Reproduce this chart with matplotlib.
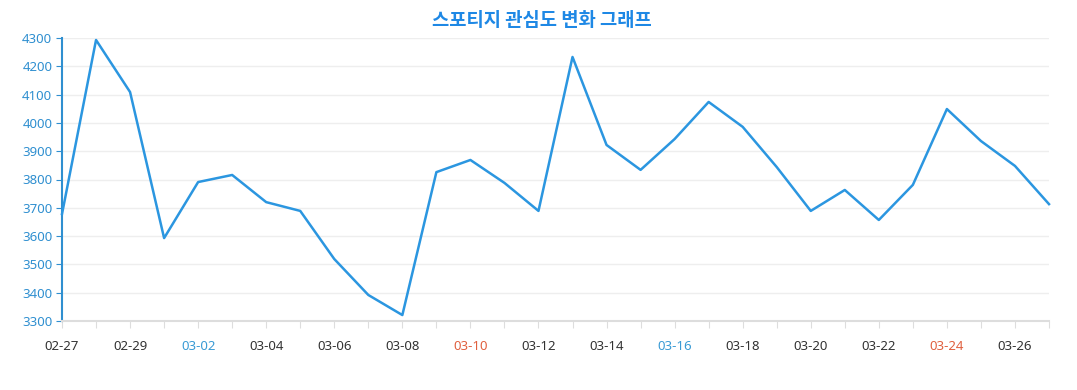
import matplotlib
matplotlib.use("Agg")
import matplotlib.pyplot as plt

plt.rcParams['font.family'] = ['Noto Sans CJK KR', 'DejaVu Sans']

dates = ['02-27', '02-28', '02-29', '03-01', '03-02', '03-03', '03-04', '03-05',
         '03-06', '03-07', '03-08', '03-09', '03-10', '03-11', '03-12', '03-13',
         '03-14', '03-15', '03-16', '03-17', '03-18', '03-19', '03-20', '03-21',
         '03-22', '03-23', '03-24', '03-25', '03-26', '03-27']
values = [3678, 4293, 4109, 3593, 3791, 3816, 3720, 3689, 3519, 3392,
          3321, 3826, 3869, 3788, 3689, 4233, 3922, 3834, 3943, 4074,
          3986, 3844, 3689, 3763, 3657, 3781, 4049, 3936, 3848, 3713]
saturdays = ['03-02', '03-09', '03-16', '03-23']
sundays = ['03-03', '03-10', '03-17', '03-24']
yticks = [3300, 3400, 3500, 3600, 3700, 3800, 3900, 4000, 4100, 4200, 4300]

fig = plt.figure(figsize=(10.77, 3.9), dpi=100)
ax = fig.add_axes([62/1077, 1 - 321/390, (1049-62)/1077, (321-38)/390])

x = list(range(len(dates)))
ax.plot(x, values, color='#2b96e0', lw=1.8, zorder=3, clip_on=False)

ax.set_xlim(0, len(dates) - 1)
ax.set_ylim(3300, 4300)
ax.set_yticks(yticks)
ax.set_yticklabels([str(v) for v in yticks], color='#2f8fd0', fontsize=9.5,
                   family=['Noto Sans', 'DejaVu Sans'])
ax.grid(axis='y', color='#eeeeee', lw=1)
ax.set_axisbelow(True)

ax.set_xticks(x)
ax.set_xticklabels([d if i % 2 == 0 else '' for i, d in enumerate(dates)], fontsize=9.5,
                   color='#333333', family=['Noto Sans', 'DejaVu Sans'])
for lab, d in zip(ax.get_xticklabels(), dates):
    if d in saturdays:
        lab.set_color('#3a9bd5')
    elif d in sundays:
        lab.set_color('#e0603f')

ax.tick_params(axis='x', length=5, color='#dddddd', pad=9)
ax.tick_params(axis='y', length=4, color='#2f8fd0', pad=3)

for s in ['top', 'right']:
    ax.spines[s].set_visible(False)
ax.spines['bottom'].set_color('#dddddd')
ax.spines['bottom'].set_linewidth(1.5)
ax.spines['left'].set_color('#2f8fd0')
ax.spines['left'].set_linewidth(1.5)

fig.text(542/1077, 1 - 20/390, '스포티지 관심도 변화 그래프', ha='center', va='center',
         fontsize=13.5, fontweight='bold', color='#1e88e5')

fig.savefig('out.png', dpi=100)
